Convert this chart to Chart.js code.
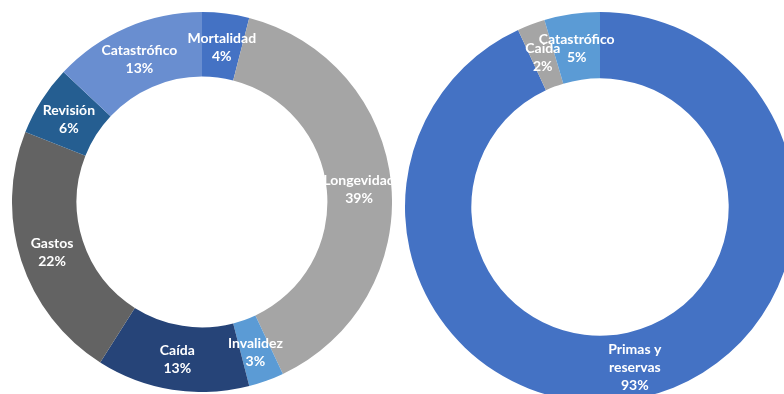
<!DOCTYPE html>
<html>
<head>
<meta charset="utf-8">
<script src="https://cdn.jsdelivr.net/npm/chart.js@4"></script>
<style>
  html, body { margin: 0; padding: 0; background: #fff; width: 784px; height: 394px; overflow: hidden; position: relative; }
  .box { position: absolute; }
</style>
</head>
<body>
<div class="box" style="left:12px; top:12px; width:380px; height:380px;"><canvas id="left"></canvas></div>
<div class="box" style="left:405px; top:12px; width:390px; height:390px;"><canvas id="right"></canvas></div>
<script>
// datos
const leftLabels = ['Mortalidad', 'Longevidad', 'Invalidez', 'Caída', 'Gastos', 'Revisión', 'Catastrófico'];
const leftValues = [4, 39, 3, 13, 22, 6, 13];
const leftColors = ['#4472C4', '#A5A5A5', '#5B9BD5', '#264478', '#636363', '#255E91', '#698ED0'];

const rightLabels = ['Primas y reservas', 'Caída', 'Catastrófico'];
const rightValues = [93.1, 2.3, 4.6];
const rightColors = ['#4472C4', '#A5A5A5', '#5B9BD5'];

const FONT = 'bold 14px Lato, "Open Sans", sans-serif';

// etiquetas dentro de cada porción (nombre + %)
const sliceLabels = {
    id: 'sliceLabels',
    afterDatasetsDraw(chart) {
        const ctx = chart.ctx;
        const ds = chart.data.datasets[0];
        const total = ds.data.reduce((a, b) => a + b, 0);
        const meta = chart.getDatasetMeta(0);
        ctx.save();
        ctx.font = FONT;
        ctx.fillStyle = '#ffffff';
        ctx.textAlign = 'center';
        ctx.textBaseline = 'middle';
        meta.data.forEach(function (arc, i) {
            const pos = arc.tooltipPosition();
            // partir el texto si es largo
            const words = chart.data.labels[i].split(' ');
            const lines = [];
            let cur = '';
            words.forEach(function (w) {
                const test = cur ? cur + ' ' + w : w;
                if (cur && ctx.measureText(test).width > 85) {
                    lines.push(cur);
                    cur = w;
                } else {
                    cur = test;
                }
            });
            lines.push(cur);
            lines.push(Math.round(ds.data[i] / total * 100) + '%');
            const lh = 18;
            const y0 = pos.y - (lines.length - 1) * lh / 2 + 2;
            lines.forEach(function (t, k) {
                ctx.fillText(t, pos.x, y0 + k * lh);
            });
        });
        ctx.restore();
    }
};

function createDonut(id, labels, values, colors, cutout) {
    var ctx = document.getElementById(id).getContext('2d');
    return new Chart(ctx, {
        type: 'doughnut',
        data: {
            labels: labels,
            datasets: [{
                data: values,
                backgroundColor: colors,
                borderWidth: 0
            }]
        },
        options: {
            responsive: true,
            maintainAspectRatio: false,
            animation: false,
            cutout: cutout,
            layout: { padding: 0 },
            plugins: {
                legend: { display: false },
                tooltip: { enabled: false }
            }
        },
        plugins: [sliceLabels]
    });
}

createDonut('left', leftLabels, leftValues, leftColors, '66%');
createDonut('right', rightLabels, rightValues, rightColors, '66%');
</script>
</body>
</html>
